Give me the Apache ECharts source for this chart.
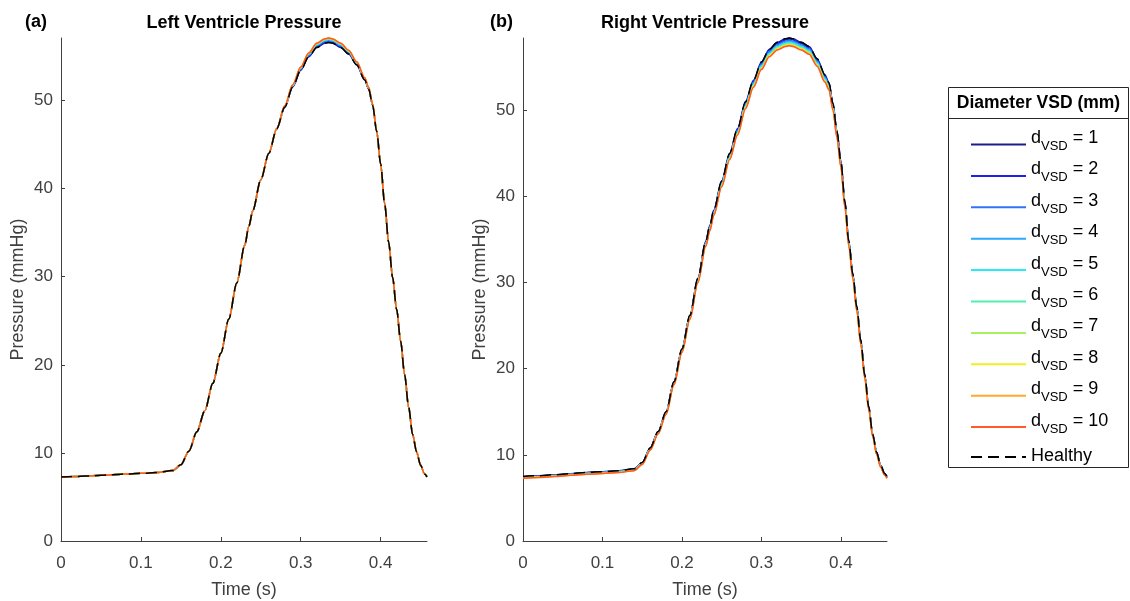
<!DOCTYPE html>
<html><head><meta charset="utf-8">
<script src="https://cdn.jsdelivr.net/npm/echarts@6/dist/echarts.min.js"></script>
<style>html,body{margin:0;padding:0;background:#fff}#c{width:1130px;height:601px}</style>
</head><body><div id="c"></div>
<script>
// time (s)
const T = [0,0.02,0.04,0.06,0.08,0.1,0.12,0.14,0.15,0.16,0.17,0.18,0.19,0.2,0.21,0.22,0.23,0.235,0.24,0.25,0.26,0.27,0.28,0.29,0.3,0.31,0.32,0.33,0.335,0.34,0.35,0.36,0.37,0.38,0.385,0.39,0.395,0.4,0.405,0.41,0.415,0.42,0.425,0.43,0.435,0.44,0.445,0.45,0.455,0.458];

// Left ventricle pressure (mmHg)
const lvD1  = [7.27,7.33,7.40,7.50,7.60,7.68,7.78,8.00,8.65,10.2,12.4,14.8,17.9,21.3,25.2,29.3,33.6,35.7,37.5,41.0,44.0,46.8,49.25,51.55,53.45,54.97,56.02,56.5,56.6,56.5,56.02,55.27,54.05,52.35,51.3,49.45,46.5,42.8,38.3,33.9,29.9,26.3,22.7,18.9,15.2,12.1,10.1,8.6,7.6,7.27];
const lvD2  = [7.27,7.33,7.40,7.50,7.60,7.68,7.78,8.00,8.65,10.2,12.4,14.8,17.9,21.3,25.2,29.3,33.6,35.7,37.5,41.0,44.0,46.8,49.28,51.6,53.52,55.06,56.12,56.6,56.7,56.6,56.12,55.36,54.12,52.4,51.34,49.48,46.52,42.8,38.3,33.9,29.9,26.3,22.7,18.9,15.2,12.1,10.1,8.6,7.6,7.27];
const lvD3  = [7.27,7.33,7.40,7.50,7.60,7.68,7.78,8.00,8.65,10.2,12.4,14.8,17.9,21.3,25.2,29.3,33.6,35.7,37.5,41.0,44.0,46.8,49.31,51.65,53.59,55.14,56.21,56.7,56.8,56.7,56.21,55.44,54.19,52.45,51.38,49.51,46.54,42.8,38.3,33.9,29.9,26.3,22.7,18.9,15.2,12.1,10.1,8.6,7.6,7.27];
const lvD4  = [7.27,7.33,7.40,7.50,7.60,7.68,7.78,8.00,8.65,10.2,12.4,14.8,17.9,21.3,25.2,29.3,33.6,35.7,37.5,41.0,44.0,46.8,49.34,51.7,53.66,55.23,56.31,56.8,56.9,56.8,56.31,55.53,54.26,52.5,51.42,49.54,46.56,42.8,38.3,33.9,29.9,26.3,22.7,18.9,15.2,12.1,10.1,8.6,7.6,7.27];
const lvD5  = [7.27,7.33,7.40,7.50,7.60,7.68,7.78,8.00,8.65,10.2,12.4,14.8,17.9,21.3,25.2,29.3,33.6,35.7,37.5,41.0,44.0,46.8,49.35,51.72,53.7,55.27,56.36,56.85,56.95,56.85,56.36,55.57,54.3,52.52,51.44,49.55,46.57,42.8,38.3,33.9,29.9,26.3,22.7,18.9,15.2,12.1,10.1,8.6,7.6,7.27];
const lvD6  = [7.27,7.33,7.40,7.50,7.60,7.68,7.78,8.00,8.65,10.2,12.4,14.8,17.9,21.3,25.2,29.3,33.6,35.7,37.5,41.0,44.0,46.8,49.37,51.75,53.73,55.31,56.4,56.9,57.0,56.9,56.4,55.61,54.33,52.55,51.46,49.57,46.58,42.8,38.3,33.9,29.9,26.3,22.7,18.9,15.2,12.1,10.1,8.6,7.6,7.27];
const lvD7  = [7.27,7.33,7.40,7.50,7.60,7.68,7.78,8.00,8.65,10.2,12.4,14.8,17.9,21.3,25.2,29.3,33.6,35.7,37.5,41.0,44.0,46.8,49.38,51.77,53.76,55.35,56.44,56.94,57.04,56.94,56.44,55.65,54.36,52.57,51.48,49.58,46.59,42.8,38.3,33.9,29.9,26.3,22.7,18.9,15.2,12.1,10.1,8.6,7.6,7.27];
const lvD8  = [7.27,7.33,7.40,7.50,7.60,7.68,7.78,8.00,8.65,10.2,12.4,14.8,17.9,21.3,25.2,29.3,33.6,35.7,37.5,41.0,44.0,46.8,49.39,51.78,53.78,55.37,56.47,56.97,57.07,56.97,56.47,55.67,54.38,52.58,51.49,49.59,46.59,42.8,38.3,33.9,29.9,26.3,22.7,18.9,15.2,12.1,10.1,8.6,7.6,7.27];
const lvD9  = [7.27,7.33,7.40,7.50,7.60,7.68,7.78,8.00,8.65,10.2,12.4,14.8,17.9,21.3,25.2,29.3,33.6,35.7,37.5,41.0,44.0,46.8,49.4,51.8,53.79,55.39,56.49,56.99,57.09,56.99,56.49,55.69,54.39,52.6,51.5,49.6,46.6,42.8,38.3,33.9,29.9,26.3,22.7,18.9,15.2,12.1,10.1,8.6,7.6,7.27];
const lvD10 = [7.27,7.33,7.40,7.50,7.60,7.68,7.78,8.00,8.65,10.2,12.4,14.8,17.9,21.3,25.2,29.3,33.6,35.7,37.5,41.0,44.0,46.8,49.4,51.8,53.8,55.4,56.5,57.0,57.1,57.0,56.5,55.7,54.4,52.6,51.5,49.6,46.6,42.8,38.3,33.9,29.9,26.3,22.7,18.9,15.2,12.1,10.1,8.6,7.6,7.27];
const lvHealthy = [7.27,7.33,7.40,7.50,7.60,7.68,7.78,8.00,8.65,10.2,12.4,14.8,17.9,21.3,25.2,29.3,33.6,35.7,37.5,41.0,44.0,46.8,49.25,51.55,53.45,54.97,56.02,56.5,56.6,56.5,56.02,55.27,54.05,52.35,51.3,49.45,46.5,42.8,38.3,33.9,29.9,26.3,22.7,18.9,15.2,12.1,10.1,8.6,7.6,7.27];

// Right ventricle pressure (mmHg)
const rvD1  = [7.48,7.58,7.70,7.82,7.95,8.05,8.15,8.38,9.10,10.8,12.7,15.0,18.5,22.3,26.2,30.5,34.8,36.6,38.4,41.8,45.0,47.9,51.0,53.5,55.6,57.1,57.9,58.3,58.4,58.3,57.9,57.4,56.0,54.1,53.2,50.8,47.6,44.1,39.4,34.8,31.0,27.2,23.3,19.3,15.6,12.4,10.3,8.8,7.85,7.48];
const rvD2  = [7.45,7.55,7.67,7.79,7.92,8.02,8.12,8.35,9.07,10.76,12.66,14.95,18.45,22.24,26.13,30.42,34.71,36.51,38.31,41.70,44.89,47.79,50.88,53.38,55.47,56.97,57.77,58.16,58.26,58.16,57.77,57.27,55.87,53.97,53.08,50.68,47.49,43.99,39.30,34.71,30.92,27.13,23.24,19.25,15.55,12.36,10.26,8.77,7.82,7.45];
const rvD3  = [7.42,7.52,7.64,7.76,7.89,7.99,8.09,8.32,9.03,10.72,12.62,14.91,18.39,22.18,26.06,30.34,34.63,36.42,38.21,41.60,44.79,47.67,50.76,53.25,55.34,56.84,57.63,58.03,58.13,58.03,57.63,57.14,55.74,53.85,52.95,50.56,47.37,43.89,39.21,34.63,30.84,27.06,23.17,19.19,15.51,12.32,10.23,8.73,7.79,7.42];
const rvD4  = [7.39,7.49,7.61,7.73,7.86,7.96,8.06,8.29,9.00,10.69,12.58,14.86,18.34,22.12,25.99,30.27,34.54,36.33,38.12,41.50,44.68,47.56,50.64,53.13,55.21,56.70,57.50,57.89,57.99,57.89,57.50,57.00,55.61,53.72,52.83,50.44,47.26,43.78,39.11,34.54,30.77,26.99,23.11,19.14,15.46,12.28,10.19,8.70,7.76,7.39];
const rvD5  = [7.37,7.47,7.59,7.71,7.83,7.93,8.03,8.26,8.97,10.66,12.55,14.83,18.30,22.07,25.94,30.20,34.48,36.26,38.05,41.42,44.60,47.47,50.54,53.03,55.11,56.60,57.39,57.79,57.89,57.79,57.39,56.90,55.50,53.62,52.73,50.35,47.17,43.70,39.04,34.48,30.70,26.93,23.06,19.09,15.42,12.25,10.16,8.67,7.74,7.37];
const rvD6  = [7.34,7.44,7.56,7.68,7.81,7.91,8.01,8.24,8.95,10.63,12.52,14.80,18.26,22.03,25.89,30.15,34.41,36.19,37.98,41.34,44.52,47.39,50.46,52.94,55.02,56.50,57.29,57.69,57.79,57.69,57.29,56.80,55.41,53.53,52.64,50.26,47.09,43.62,38.96,34.41,30.65,26.88,23.01,19.06,15.39,12.22,10.14,8.65,7.71,7.34];
const rvD7  = [7.32,7.42,7.54,7.66,7.79,7.89,7.99,8.22,8.93,10.60,12.49,14.77,18.23,21.99,25.84,30.09,34.36,36.13,37.92,41.28,44.45,47.31,50.38,52.85,54.93,56.41,57.21,57.60,57.70,57.60,57.21,56.71,55.32,53.44,52.55,50.18,47.01,43.55,38.90,34.36,30.59,26.83,22.97,19.02,15.36,12.19,10.11,8.63,7.69,7.32];
const rvD8  = [7.31,7.41,7.53,7.65,7.77,7.87,7.97,8.20,8.91,10.58,12.47,14.74,18.20,21.96,25.80,30.05,34.31,36.08,37.87,41.22,44.39,47.25,50.31,52.79,54.86,56.34,57.13,57.53,57.63,57.53,57.13,56.64,55.25,53.38,52.49,50.12,46.95,43.50,38.85,34.31,30.55,26.80,22.94,18.99,15.33,12.17,10.09,8.61,7.68,7.31];
const rvD9  = [7.29,7.39,7.51,7.63,7.75,7.85,7.95,8.18,8.89,10.56,12.45,14.72,18.17,21.92,25.77,30.01,34.26,36.04,37.82,41.17,44.33,47.19,50.25,52.72,54.79,56.27,57.06,57.45,57.55,57.45,57.06,56.57,55.18,53.31,52.41,50.06,46.89,43.44,38.80,34.26,30.51,26.76,22.91,18.96,15.29,12.15,10.07,8.60,7.66,7.29];
const rvD10 = [7.28,7.38,7.50,7.62,7.74,7.84,7.94,8.17,8.88,10.55,12.43,14.70,18.15,21.90,25.74,29.98,34.23,36.00,37.78,41.13,44.29,47.15,50.20,52.67,54.74,56.22,57.01,57.40,57.50,57.40,57.01,56.52,55.13,53.26,52.37,50.01,46.85,43.40,38.76,34.23,30.48,26.73,22.88,18.94,15.29,12.13,10.06,8.58,7.65,7.28];
const rvHealthy = [7.48,7.58,7.70,7.82,7.95,8.05,8.15,8.38,9.10,10.8,12.7,15.0,18.5,22.3,26.2,30.5,34.8,36.6,38.4,41.8,45.0,47.9,51.0,53.5,55.6,57.1,57.9,58.3,58.4,58.3,57.9,57.4,56.0,54.1,53.2,50.8,47.6,44.1,39.4,34.8,31.0,27.2,23.3,19.3,15.6,12.4,10.3,8.8,7.85,7.48];

const seriesNames = ['d_VSD = 1','d_VSD = 2','d_VSD = 3','d_VSD = 4','d_VSD = 5','d_VSD = 6','d_VSD = 7','d_VSD = 8','d_VSD = 9','d_VSD = 10','Healthy'];
const xTicks = [0, 0.1, 0.2, 0.3, 0.4];
const yTicks = [0, 10, 20, 30, 40, 50];

const colors = ['#1c1c8c','#1f1ff0','#2f74f5','#2aaaf8','#2ae8f8','#50f0b0','#a8f060','#f0f020','#ffa830','#ff5a28','#000000'];
const lvSets = [lvD1,lvD2,lvD3,lvD4,lvD5,lvD6,lvD7,lvD8,lvD9,lvD10,lvHealthy];
const rvSets = [rvD1,rvD2,rvD3,rvD4,rvD5,rvD6,rvD7,rvD8,rvD9,rvD10,rvHealthy];

const FONT = '"Liberation Sans", Arial, Helvetica, sans-serif';
const AX = '#404040';

function mkX(i){
  return {type:'value', gridIndex:i, min:0, max:0.458,
    axisLine:{show:true, onZero:false, lineStyle:{color:AX, width:1}},
    axisTick:{show:true, inside:true, length:4, customValues:xTicks, lineStyle:{color:AX}},
    axisLabel:{color:AX, fontSize:17, fontFamily:FONT, margin:14, customValues:xTicks,
      formatter: v => String(v)},
    splitLine:{show:false},
    name:'Time (s)', nameLocation:'middle', nameGap:40,
    nameTextStyle:{color:AX, fontSize:18, fontFamily:FONT}};
}
function mkY(i, max){
  return {type:'value', gridIndex:i, min:0, max:max,
    axisLine:{show:true, onZero:false, lineStyle:{color:AX, width:1}},
    axisTick:{show:true, inside:true, length:4, customValues:yTicks, lineStyle:{color:AX}},
    axisLabel:{color:AX, fontSize:17, fontFamily:FONT, margin:8, customValues:yTicks},
    splitLine:{show:false},
    name:'Pressure (mmHg)', nameLocation:'middle', nameGap:34, nameRotate:90,
    nameTextStyle:{color:AX, fontSize:18, fontFamily:FONT}};
}

const series = [];
[lvSets, rvSets].forEach((sets, g) => {
  sets.forEach((arr, k) => {
    const healthy = k === 10;
    series.push({
      type:'line', name:seriesNames[k], xAxisIndex:g, yAxisIndex:g,
      data: T.map((t, i) => [t, arr[i]]),
      symbol:'none', showSymbol:false, animation:false, clip:false,
      smooth:0.3, smoothMonotone:'x',
      lineStyle:{color:colors[k], width:1.5, type: healthy ? [11,6] : 'solid'},
      itemStyle:{color:colors[k]}, z: 2 + k
    });
  });
});

const TITLE_FONT = '"Liberation Sans Narrow", "Arial Narrow", ' + FONT;
const chart = echarts.init(document.getElementById('c'), null, {renderer:'canvas'});
chart.setOption({
  backgroundColor:'#fff',
  animation:false,
  title:[
    {text:'(a)', left:25, top:13, padding:0, textStyle:{fontSize:18, fontWeight:'bold', color:'#000', fontFamily:TITLE_FONT}},
    {text:'(b)', left:490, top:13, padding:0, textStyle:{fontSize:18, fontWeight:'bold', color:'#000', fontFamily:TITLE_FONT}},
    {text:'Left Ventricle Pressure', left:244, top:14, padding:0, textAlign:'center', textStyle:{fontSize:18, fontWeight:'bold', color:'#000', fontFamily:FONT}},
    {text:'Right Ventricle Pressure', left:705, top:14, padding:0, textAlign:'center', textStyle:{fontSize:18, fontWeight:'bold', color:'#000', fontFamily:FONT}}
  ],
  grid:[
    {left:61, top:38, width:366, height:503, outerBoundsMode:'none', containLabel:false},
    {left:523, top:38, width:364, height:503, outerBoundsMode:'none', containLabel:false}
  ],
  xAxis:[mkX(0), mkX(1)],
  yAxis:[mkY(0, 57.1), mkY(1, 58.4)],
  legend:{
    orient:'vertical', left:970, top:129, padding:0, itemWidth:55, itemHeight:14, itemGap:6.4,
    data: seriesNames, selectedMode:false,
    itemStyle:{opacity:0},
    formatter: name => {
      if (name === 'Healthy') return '{h|Healthy}';
      const num = name.split('= ')[1];
      return '{d|d}{s|VSD}{d| = ' + num + '}';
    },
    textStyle:{color:'#000', fontFamily:FONT, padding:[0,0,6,0],
      rich:{
        d:{fontSize:18, lineHeight:15, padding:[0,0,7,0], fontFamily:FONT, color:'#000'},
        s:{fontSize:13, lineHeight:12, padding:[10,0,0,0], fontFamily:FONT, color:'#000'},
        h:{fontSize:18, lineHeight:22, padding:[4,0,0,0], fontFamily:FONT, color:'#000'}
      }}
  },
  graphic:[
    {type:'rect', shape:{x:948.5, y:87.5, width:180, height:380}, style:{fill:'none', stroke:'#262626', lineWidth:1}, z:100},
    {type:'line', shape:{x1:948.5, y1:118.5, x2:1128.5, y2:118.5}, style:{stroke:'#262626', lineWidth:1}, z:100},
    {type:'text', x:1038.5, y:103, style:{text:'Diameter VSD (mm)', fill:'#000', font:'bold 17.5px ' + FONT, textAlign:'center', textVerticalAlign:'middle'}, z:100}
  ],
  series: series
});
</script></body></html>
